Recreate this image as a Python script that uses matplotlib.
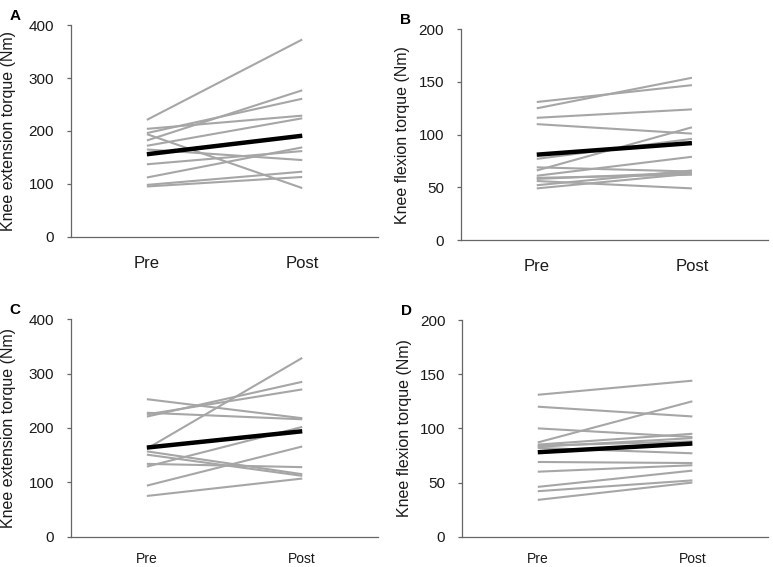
import matplotlib
matplotlib.use("Agg")
import matplotlib.pyplot as plt

plt.rcParams['font.family'] = ['Liberation Sans', 'DejaVu Sans']

phases = ["Pre", "Post"]

# panel A: knee extension torque, group 1
ext1_pre = [221, 204, 196, 194, 182, 172, 165, 137, 112, 98, 95]
ext1_post = [373, 229, 261, 92, 277, 224, 145, 162, 169, 123, 113]
ext1_mean = [156, 191]

# panel B: knee flexion torque, group 1
flex1_pre = [131, 125, 116, 110, 77, 69, 66, 61, 59, 58, 56, 52, 49]
flex1_post = [147, 154, 124, 101, 96, 65, 107, 79, 62, 64, 49, 66, 63]
flex1_mean = [81, 92]

# panel C: knee extension torque, group 2
ext2_pre = [253, 228, 225, 221, 162, 157, 151, 134, 129, 94, 75]
ext2_post = [218, 216, 271, 285, 329, 115, 112, 128, 202, 166, 107]
ext2_mean = [164, 194]

# panel D: knee flexion torque, group 2
flex2_pre = [131, 120, 100, 87, 85, 84, 83, 82, 69, 60, 46, 42, 34]
flex2_post = [144, 111, 92, 125, 95, 88, 91, 77, 68, 66, 61, 52, 50]
flex2_mean = [78, 86]

ext_ticks = [0, 100, 200, 300, 400]
flex_ticks = [0, 50, 100, 150, 200]

axis_col = "#666666"
text_col = "#1a1a1a"

fig = plt.figure(figsize=(7.73, 5.67), dpi=100)

panels = [
    ("A", [0.0915, 0.5825, 0.398, 0.373], ext1_pre, ext1_post, ext1_mean,
     ext_ticks, "Knee extension torque (Nm)", 12, 14, -0.178),
    ("B", [0.596, 0.5767, 0.3975, 0.3716], flex1_pre, flex1_post, flex1_mean,
     flex_ticks, "Knee flexion torque (Nm)", 12, 14, -0.165),
    ("C", [0.0915, 0.0534, 0.398, 0.3835], ext2_pre, ext2_post, ext2_mean,
     ext_ticks, "Knee extension torque (Nm)", 10, 11, -0.178),
    ("D", [0.5977, 0.0534, 0.396, 0.3822], flex2_pre, flex2_post, flex2_mean,
     flex_ticks, "Knee flexion torque (Nm)", 10, 11, -0.165),
]

for letter, rect, pre, post, mean, ticks, ylab, xfs, xpad, labx in panels:
    ax = fig.add_axes(rect)
    for a, b in zip(pre, post):
        ax.plot([0, 1], [a, b], color="#a6a6a6", lw=1.5, solid_capstyle="butt")
    ax.plot([0, 1], mean, color="black", lw=3.2, solid_capstyle="butt")

    ax.set_xlim(-0.49, 1.49)
    ax.set_ylim(ticks[0], ticks[-1])
    ax.set_yticks(ticks)
    ax.set_xticks([0, 1])
    ax.set_xticklabels(phases)

    for s in ["top", "right"]:
        ax.spines[s].set_visible(False)
    for s in ["left", "bottom"]:
        ax.spines[s].set_color(axis_col)
        ax.spines[s].set_linewidth(0.9)
    ax.spines["left"].set_bounds(ticks[0], ticks[-1])

    ax.tick_params(axis="y", direction="out", length=3, width=0.9,
                   color=axis_col, labelsize=11, pad=9, labelcolor=text_col)
    ax.tick_params(axis="x", length=0, labelsize=xfs, pad=xpad,
                   labelcolor=text_col)

    ax.set_ylabel(ylab, fontsize=11.5, color=text_col)
    ax.yaxis.set_label_coords(labx, 0.5)

    fx = rect[0] - 0.079
    fy = rect[1] + rect[3] + 0.016
    fig.text(fx, fy, letter, fontsize=11, fontweight="bold", ha="left", va="center")

fig.savefig("out.png", dpi=100)
